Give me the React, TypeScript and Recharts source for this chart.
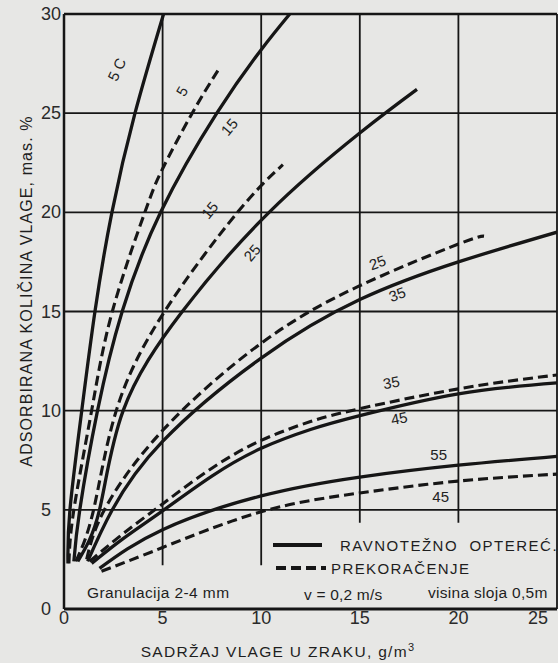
import { LineChart, Line, XAxis, YAxis, ReferenceLine, ReferenceDot, Customized } from "recharts"

// RAVNOTEŽNO OPTEREĆ. (solid)
const solid5 = [
  { x: 0.2, y: 2.3 }, { x: 0.3, y: 5 }, { x: 0.9, y: 10 }, { x: 1.57, y: 15 },
  { x: 2.43, y: 20 }, { x: 3.6, y: 25 }, { x: 5.05, y: 30 },
]
const solid15 = [
  { x: 0.5, y: 2.4 }, { x: 0.8, y: 5 }, { x: 1.7, y: 10 }, { x: 2.95, y: 15 },
  { x: 4.9, y: 20 }, { x: 7.75, y: 25 }, { x: 10, y: 28.2 }, { x: 11.45, y: 30 },
]
const solid25 = [
  { x: 0.7, y: 2.4 }, { x: 1.8, y: 5 }, { x: 3.0, y: 10 }, { x: 6.0, y: 15 },
  { x: 10.4, y: 20 }, { x: 15, y: 24 }, { x: 17.9, y: 26.2 },
]
const solid35 = [
  { x: 1.2, y: 2.4 }, { x: 2.45, y: 5 }, { x: 5, y: 8.45 }, { x: 10, y: 12.65 },
  { x: 15, y: 15.6 }, { x: 20, y: 17.5 }, { x: 25, y: 19.0 },
]
const solid45 = [
  { x: 1.4, y: 2.3 }, { x: 3, y: 3.55 }, { x: 5, y: 4.95 }, { x: 7.5, y: 6.7 },
  { x: 10, y: 8.1 }, { x: 12.5, y: 9.05 }, { x: 15, y: 9.75 }, { x: 20, y: 10.85 }, { x: 25, y: 11.4 },
]
const solid55 = [
  { x: 1.8, y: 2.05 }, { x: 5, y: 4.0 }, { x: 10, y: 5.7 },
  { x: 15, y: 6.65 }, { x: 20, y: 7.25 }, { x: 25, y: 7.7 },
]

// PREKORAČENJE (dashed)
const dashed5 = [
  { x: 0.25, y: 2.3 }, { x: 0.5, y: 5 }, { x: 1.4, y: 10 }, { x: 2.45, y: 15 },
  { x: 4.1, y: 20 }, { x: 5, y: 22.2 }, { x: 6.5, y: 25 }, { x: 7.9, y: 27.3 },
]
const dashed15 = [
  { x: 0.6, y: 2.4 }, { x: 1.5, y: 5 }, { x: 2.65, y: 10 }, { x: 5.1, y: 15 },
  { x: 8.8, y: 20 }, { x: 11.1, y: 22.4 },
]
const dashed25 = [
  { x: 1.15, y: 2.5 }, { x: 2.05, y: 5 }, { x: 5, y: 9.0 }, { x: 10, y: 13.4 },
  { x: 15, y: 16.3 }, { x: 20, y: 18.4 }, { x: 21.3, y: 18.8 },
]
const dashed35 = [
  { x: 1.3, y: 2.4 }, { x: 3, y: 3.8 }, { x: 5, y: 5.3 }, { x: 7.5, y: 7.1 },
  { x: 10, y: 8.5 }, { x: 12.5, y: 9.45 }, { x: 15, y: 10.1 }, { x: 20, y: 11.1 }, { x: 25, y: 11.8 },
]
const dashed45 = [
  { x: 1.9, y: 1.9 }, { x: 5, y: 3.1 }, { x: 10, y: 4.9 },
  { x: 15, y: 5.85 }, { x: 20, y: 6.45 }, { x: 25, y: 6.8 },
]

const solidSeries = [solid5, solid15, solid25, solid35, solid45, solid55]
const dashedSeries = [dashed5, dashed15, dashed25, dashed35, dashed45]

const xTicks = [0, 5, 10, 15, 20, 25]
const yTicks = [0, 5, 10, 15, 20, 25, 30]

const curveLabels = [
  { text: "5 C", x: 2.7, y: 27.2, angle: -65 },
  { text: "5", x: 6.0, y: 26.1, angle: -60 },
  { text: "15", x: 8.4, y: 24.3, angle: -50 },
  { text: "15", x: 7.4, y: 20.1, angle: -50 },
  { text: "25", x: 9.55, y: 17.95, angle: -50 },
  { text: "25", x: 15.9, y: 17.45, angle: -20 },
  { text: "35", x: 16.9, y: 15.85, angle: -20 },
  { text: "35", x: 16.6, y: 11.4, angle: -10 },
  { text: "45", x: 17.0, y: 9.6, angle: -10 },
  { text: "55", x: 19.0, y: 7.75, angle: 0 },
  { text: "45", x: 19.1, y: 5.65, angle: 0 },
]

const INK = "#161616"
const FONT = "'Liberation Sans', Arial, sans-serif"

const XTick = (props: any) => {
  const { x, y, payload } = props
  const last = payload.value === 25
  return (
    <text x={last ? x - 2 : x} y={y} dy={15} textAnchor={last ? "end" : "middle"}
      fontSize={18} fill="#2a2a2a" fontFamily={FONT}>
      {payload.value}
    </text>
  )
}

const YTick = (props: any) => {
  const { y, payload } = props
  return (
    <text x={41} y={y} dy={6} textAnchor="start" fontSize={18} fill="#2a2a2a" fontFamily={FONT}>
      {payload.value}
    </text>
  )
}

const Overlay = () => (
  <g fontFamily={FONT} fill="#1e1e1e">
    <text x={27} y={291} transform="rotate(-90 27 291)" textAnchor="middle" dy={5}
      fontSize={16} letterSpacing={1.1}>
      ADSORBIRANA KOLIČINA VLAGE, mas. %
    </text>
    <text x={278} y={657} textAnchor="middle" fontSize={15.5} letterSpacing={1.3}>
      SADRŽAJ VLAGE U ZRAKU, g/m<tspan dy={-6} fontSize={11}>3</tspan>
    </text>
    <line x1={273} y1={545} x2={322} y2={545} stroke={INK} strokeWidth={4} />
    <text x={340} y={551} fontSize={15} letterSpacing={1.5} style={{ whiteSpace: "pre" }}>
      RAVNOTEŽNO  OPTEREĆ.
    </text>
    <line x1={276} y1={568} x2={326} y2={568} stroke={INK} strokeWidth={4} strokeDasharray="10 5" />
    <text x={331} y={574} fontSize={15} letterSpacing={1.4}>PREKORAČENJE</text>
    <text x={87} y={598} fontSize={15.5} letterSpacing={0.4}>Granulacija 2-4 mm</text>
    <text x={304} y={600} fontSize={15.5} letterSpacing={0.2}>v = 0,2 m/s</text>
    <text x={428} y={598} fontSize={15.5} letterSpacing={0.3}>visina sloja 0,5m</text>
  </g>
)

const CurveLabel = (props: any, text: string, angle: number) => {
  const vb = props.viewBox || {}
  const cx = vb.x + (vb.width || 0) / 2
  const cy = vb.y + (vb.height || 0) / 2
  return (
    <text x={cx} y={cy} dy={5} textAnchor="middle" fontSize={15} fill="#222"
      fontFamily={FONT} transform={`rotate(${angle} ${cx} ${cy})`}>
      {text}
    </text>
  )
}

export default function App() {
  return (
    <div style={{ position: "absolute", left: 0, top: 0, width: 558, height: 663, background: "#e7e7e5" }}>
      <LineChart width={558} height={663} margin={{ top: 14, right: 1, bottom: 0, left: 0 }}>
        <XAxis type="number" dataKey="x" domain={[0, 25]} ticks={xTicks} height={54}
          axisLine={{ stroke: INK, strokeWidth: 3 }} tickLine={false} tickSize={0} tickMargin={0}
          tick={<XTick />} allowDataOverflow />
        <YAxis type="number" dataKey="y" domain={[0, 30]} ticks={yTicks} width={64}
          axisLine={{ stroke: INK, strokeWidth: 2.5 }} tickLine={false} tick={<YTick />} allowDataOverflow />

        {[5, 10].map((v) => (
          <ReferenceLine key={`v${v}`} segment={[{ x: v, y: 2.2 }, { x: v, y: 30 }]} stroke={INK} strokeWidth={1.8} />
        ))}
        {[15, 20].map((v) => (
          <ReferenceLine key={`v${v}`} segment={[{ x: v, y: 4.35 }, { x: v, y: 30 }]} stroke={INK} strokeWidth={1.8} />
        ))}
        <ReferenceLine segment={[{ x: 25, y: 0 }, { x: 25, y: 30 }]} stroke={INK} strokeWidth={1.8} />
        {[5, 10, 15, 20, 25].map((v) => (
          <ReferenceLine key={`h${v}`} segment={[{ x: 0, y: v }, { x: 25, y: v }]} stroke={INK} strokeWidth={1.8} />
        ))}
        <ReferenceLine segment={[{ x: 0, y: 30 }, { x: 25, y: 30 }]} stroke={INK} strokeWidth={2.4} />

        {solidSeries.map((d, i) => (
          <Line key={`s${i}`} data={d} dataKey="y" type="natural" stroke={INK} strokeWidth={3.3}
            dot={false} activeDot={false} isAnimationActive={false} />
        ))}
        {dashedSeries.map((d, i) => (
          <Line key={`d${i}`} data={d} dataKey="y" type="natural" stroke={INK} strokeWidth={3.1}
            strokeDasharray="10 5" dot={false} activeDot={false} isAnimationActive={false} />
        ))}

        {curveLabels.map((l, i) => (
          <ReferenceDot key={`l${i}`} x={l.x} y={l.y} r={0} fill="none" stroke="none"
            label={(p: any) => CurveLabel(p, l.text, l.angle)} />
        ))}
        <Customized component={<Overlay />} />
      </LineChart>
    </div>
  )
}
